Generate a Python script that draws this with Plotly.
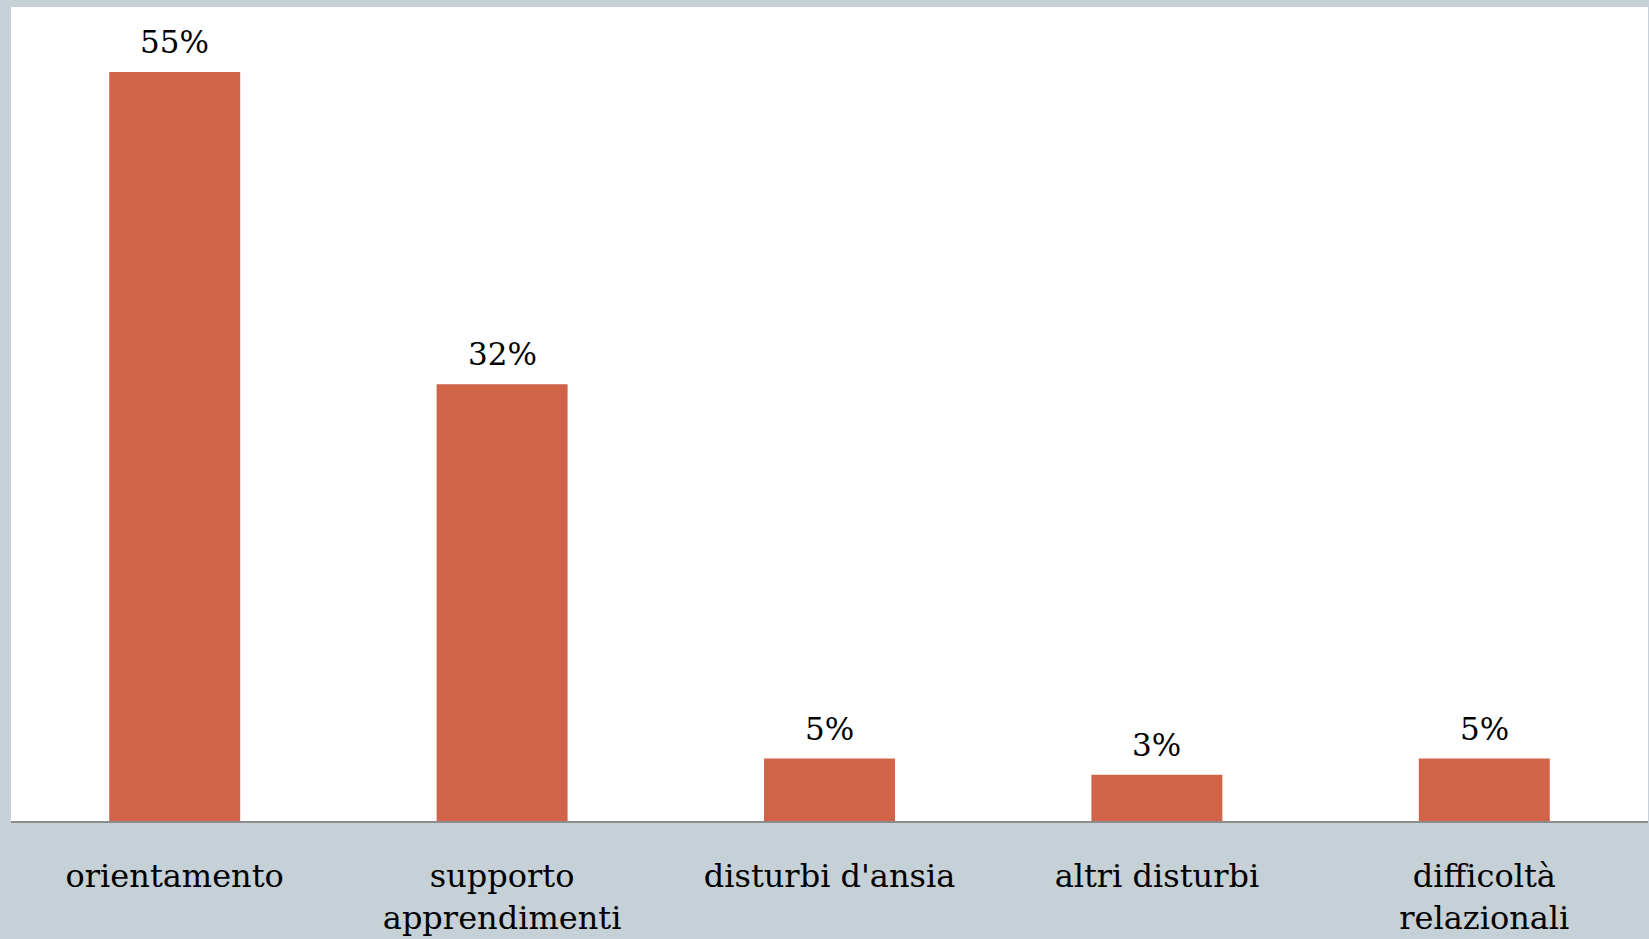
import plotly.graph_objects as go

categories = ["orientamento", "supporto<br>apprendimenti", "disturbi d'ansia", "altri disturbi", "difficoltà<br>relazionali"]
values = [55.2, 32.2, 4.6, 3.4, 4.6]
labels = ["55%", "32%", "5%", "3%", "5%"]

BAR = "#D16349"
BG = "#C5D0D7"
FONT = "DejaVu Serif"

fig = go.Figure(
    go.Bar(
        x=categories,
        y=values,
        marker=dict(color=BAR, line=dict(width=0)),
        width=0.4,
        hoverinfo="skip",
    )
)

for c, v, t in zip(categories, values, labels):
    fig.add_annotation(
        x=c, y=v, text=t, showarrow=False,
        xanchor="center", yanchor="middle", yshift=30,
        font=dict(family=FONT, size=31, color="#000000"),
    )

fig.update_layout(
    width=1649,
    height=939,
    margin=dict(l=11, r=1, t=7, b=118),
    paper_bgcolor=BG,
    plot_bgcolor="#FFFFFF",
    showlegend=False,
    font=dict(family=FONT, size=32, color="#000000"),
)
fig.update_xaxes(
    showline=True,
    linecolor="#8C8C8C",
    linewidth=2,
    ticks="",
    ticklabelstandoff=26,
    tickfont=dict(family=FONT, size=32, color="#000000"),
    showgrid=False,
)
fig.update_yaxes(
    range=[0, 60],
    visible=False,
    showgrid=False,
    zeroline=False,
)

fig.write_html(
    "out.html",
    config={"displayModeBar": False},
    post_script="document.body.style.margin='0';document.body.style.background='#C5D0D7';",
)
